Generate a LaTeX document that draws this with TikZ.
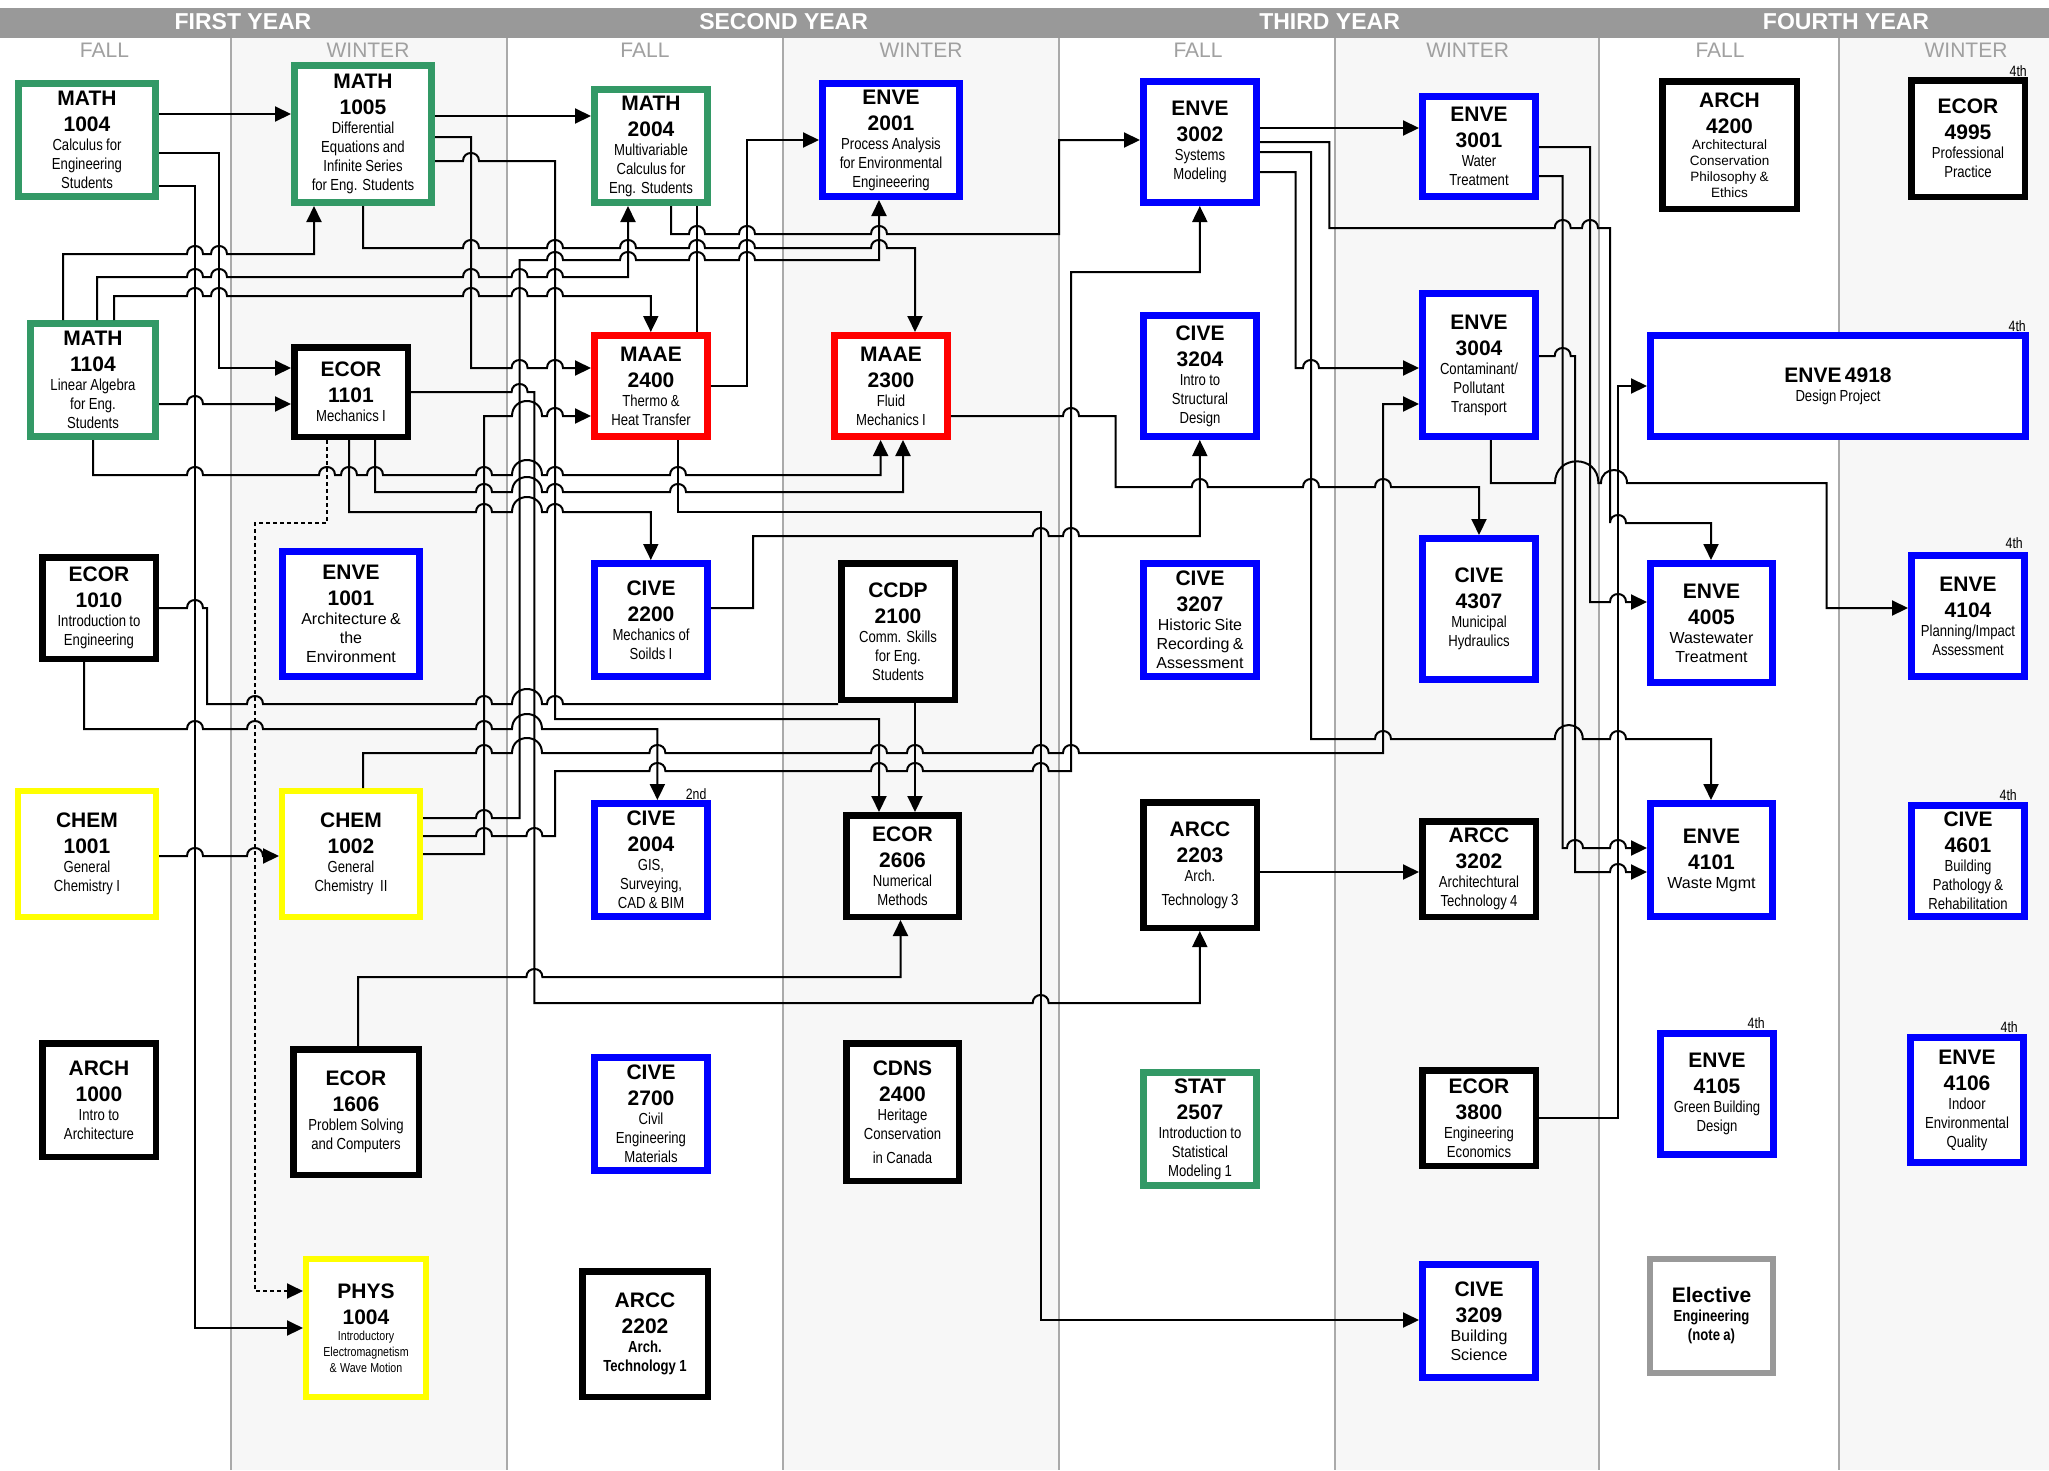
\documentclass[tikz,border=0pt]{standalone}
\usepackage{fontspec}
\setmainfont{Liberation Sans}
\newfontfamily\narrowfont[FakeStretch=0.82]{Liberation Sans}
\usetikzlibrary{arrows.meta}
\definecolor{cgreen}{HTML}{339966}
\definecolor{cblue}{HTML}{0000FF}
\definecolor{cred}{HTML}{FF0000}
\definecolor{cyellow}{HTML}{FFFF00}
\definecolor{cgrayb}{HTML}{999999}
\definecolor{colbg}{HTML}{F7F7F7}
\definecolor{colline}{HTML}{AAAAAA}
\definecolor{bandc}{HTML}{999999}
\definecolor{semc}{HTML}{A0A0A0}
\newcommand{\cT}{\fontsize{21}{26}\rmfamily\bfseries}
\newcommand{\cD}{\fontsize{16}{19}\narrowfont\mdseries}
\newcommand{\cW}{\fontsize{16}{19}\rmfamily\mdseries}
\newcommand{\cS}{\fontsize{13}{16}\narrowfont\mdseries}
\newcommand{\cA}{\fontsize{13.5}{16}\rmfamily\mdseries}
\newcommand{\cB}{\fontsize{16}{19}\narrowfont\bfseries}
\tikzset{
  cbox/.style={fill=white, inner sep=0pt, align=center, execute at begin node={\parindent=0pt}},
  conn/.style={draw=black, line width=2pt, -{Triangle[length=16pt,width=15pt]}},
  nconn/.style={draw=black, line width=2pt},
  dotline/.style={dash pattern=on 4pt off 3pt},
  hp/.style args={#1/#2}{insert path={-- ({#1-8},#2) .. controls +(0,-10.67) and +(0,-10.67) .. ({#1+8},#2)}},
  bh/.style args={#1/#2/#3}{insert path={-- ({#1-#3},#2) .. controls +(0,{-1.333*#3}) and +(0,{-1.333*#3}) .. ({#1+#3},#2)}},
  yearlbl/.style={text=white, font=\fontsize{23}{23}\selectfont\bfseries, anchor=base, inner sep=0pt},
  semlbl/.style={text=semc, font=\fontsize{21}{21}\selectfont, anchor=base, inner sep=0pt},
  ordlbl/.style={font=\fontsize{15}{15}\narrowfont, anchor=base east, inner sep=0pt}
}
\newcommand{\crs}[8]{%
  \pgfmathsetmacro{\mw}{#3-#2-#7}%
  \pgfmathsetmacro{\mh}{#5-#4-#7}%
  \pgfmathsetmacro{\tw}{#3-#2-2*#7-4}%
  \pgfmathsetmacro{\cx}{(#2+#3)/2}%
  \pgfmathsetmacro{\cy}{(#4+#5)/2}%
  \node[cbox, draw=#6, line width=#7pt, minimum width=\mw pt, minimum height=\mh pt, text width=\tw pt] (#1) at (\cx,\cy) {#8\par};}
\begin{document}
\begin{tikzpicture}[x=1pt,y=-1pt]
\useasboundingbox (0,0) rectangle (2049,1470);
\fill[white] (0,0) rectangle (2049,1470);
% column backgrounds
\fill[colbg] (230.7,37.7) rectangle (506.9,1470);
\fill[colbg] (783.1,37.7) rectangle (1058.9,1470);
\fill[colbg] (1335.1,37.7) rectangle (1599,1470);
\fill[colbg] (1839,37.7) rectangle (2049,1470);
\foreach \x in {230.7,506.9,783.1,1058.9,1335.1,1599,1839} \draw[colline, line width=2pt] (\x,37.7) -- (\x,1470);
\fill[bandc] (0,8) rectangle (2049,37.7);
\node[yearlbl] (y1) at (243,29.5) {FIRST YEAR};
\node[yearlbl] (y2) at (783.6,29.5) {SECOND YEAR};
\node[yearlbl] (y3) at (1329.6,29.5) {THIRD YEAR};
\node[yearlbl] (y4) at (1846,29.5) {FOURTH YEAR};
\node[semlbl] (s1) at (104.5,57.5) {FALL};
\node[semlbl] (s2) at (368,57.5) {WINTER};
\node[semlbl] (s3) at (645,57.5) {FALL};
\node[semlbl] (s4) at (921,57.5) {WINTER};
\node[semlbl] (s5) at (1198,57.5) {FALL};
\node[semlbl] (s6) at (1467.7,57.5) {WINTER};
\node[semlbl] (s7) at (1720,57.5) {FALL};
\node[semlbl] (s8) at (1966,57.5) {WINTER};

% course boxes
\crs{m1004}{15}{159}{80}{200}{cgreen}{7}{\cT MATH\\1004\par\cD Calculus for\\Engineering\\Students}
\crs{m1005}{291}{435}{62}{206}{cgreen}{7}{\cT MATH\\1005\par\cD Differential\\Equations and\\Infinite Series\\for Eng. Students}
\crs{m1104}{27}{159}{320}{440}{cgreen}{7}{\cT MATH\\1104\par\cD Linear Algebra\\for Eng.\\Students}
\crs{e1101}{291}{411}{344}{440}{black}{6.5}{\cT ECOR\\1101\par\cD Mechanics I}
\crs{e1010}{39}{159}{554}{662}{black}{6.5}{\cT ECOR\\1010\par\cD Introduction to\\Engineering}
\crs{n1001}{279}{423}{548}{680}{cblue}{7}{\cT ENVE\\1001\par\cW Architecture \&\\the\\Environment}
\crs{c1001}{15}{159}{788}{920}{cyellow}{6}{\cT CHEM\\1001\par\cD General\\Chemistry I}
\crs{c1002}{279}{423}{788}{920}{cyellow}{6}{\cT CHEM\\1002\par\cD General\\Chemistry\ \ II}
\crs{a1000}{39}{159}{1040}{1160}{black}{6.5}{\cT ARCH\\1000\par\cD Intro to\\Architecture}
\crs{e1606}{290}{422}{1046}{1178}{black}{6.5}{\cT ECOR\\1606\par\cD Problem Solving\\and Computers}
\crs{p1004}{303}{429}{1256}{1400}{cyellow}{6}{\cT PHYS\\1004\par\cS Introductory\\Electromagnetism\\\& Wave Motion}
\crs{m2004}{591}{711}{86}{206}{cgreen}{7}{\cT MATH\\2004\par\cD Multivariable\\Calculus for\\Eng. Students}
\crs{n2001}{819}{963}{80}{200}{cblue}{7}{\cT ENVE\\2001\par\cD Process Analysis\\for Environmental\\Engineeering}
\crs{a2400}{591}{711}{332}{440}{cred}{7}{\cT MAAE\\2400\par\cD Thermo \&\\Heat Transfer}
\crs{a2300}{831}{951}{332}{440}{cred}{7}{\cT MAAE\\2300\par\cD Fluid\\Mechanics I}
\crs{v2200}{591}{711}{560}{680}{cblue}{7}{\cT CIVE\\2200\par\cD Mechanics of\\Soilds I}
\crs{cc2100}{838}{958}{560}{703}{black}{6.5}{\cT CCDP\\2100\par\cD Comm. Skills\\for Eng.\\Students}
\crs{v2004}{591}{711}{800}{920}{cblue}{7}{\cT CIVE\\2004\par\cD GIS,\\Surveying,\\CAD \& BIM}
\crs{e2606}{843}{962}{812}{920}{black}{6.5}{\cT ECOR\\2606\par\cD Numerical\\Methods}
\crs{v2700}{591}{711}{1054}{1174}{cblue}{7}{\cT CIVE\\2700\par\cD Civil\\Engineering\\Materials}
\crs{cd2400}{843}{962}{1040}{1184}{black}{6.5}{\cT CDNS\\2400\par\cD Heritage\\Conservation\\[5pt]in Canada}
\crs{ar2202}{579}{711}{1268}{1400}{black}{6.5}{\cT ARCC\\2202\par\cB Arch.\\Technology 1}
\crs{n3002}{1140}{1260}{78}{206}{cblue}{7}{\cT ENVE\\3002\par\cD Systems\\Modeling}
\crs{n3001}{1419}{1539}{93}{200}{cblue}{7}{\cT ENVE\\3001\par\cD Water\\Treatment}
\crs{v3204}{1140}{1260}{312}{440}{cblue}{7}{\cT CIVE\\3204\par\cD Intro to\\Structural\\Design}
\crs{n3004}{1419}{1539}{290}{440}{cblue}{7}{\cT ENVE\\3004\par\cD Contaminant/\\Pollutant\\Transport}
\crs{v3207}{1140}{1260}{560}{680}{cblue}{7}{\cT CIVE\\3207\par\cW Historic Site\\Recording \&\\Assessment}
\crs{v4307}{1419}{1539}{535}{683}{cblue}{7}{\cT CIVE\\4307\par\cD Municipal\\Hydraulics}
\crs{ar2203}{1140}{1260}{799}{931}{black}{6.5}{\cT ARCC\\2203\par\cD Arch.\\[5pt]Technology 3}
\crs{ar3202}{1419}{1539}{818}{920}{black}{6.5}{\cT ARCC\\3202\par\cD Architechtural\\Technology 4}
\crs{s2507}{1140}{1260}{1069}{1189}{cgreen}{7}{\cT STAT\\2507\par\cD Introduction to\\Statistical\\Modeling 1}
\crs{e3800}{1419}{1539}{1067}{1169}{black}{6.5}{\cT ECOR\\3800\par\cD Engineering\\Economics}
\crs{v3209}{1419}{1539}{1261}{1381}{cblue}{7}{\cT CIVE\\3209\par\cW Building\\Science}
\crs{h4200}{1659}{1800}{78}{212}{black}{6.5}{\cT ARCH\\4200\par\cA Architectural\\Conservation\\Philosophy \&\\Ethics}
\crs{e4995}{1908}{2028}{77}{200}{black}{6.5}{\cT ECOR\\4995\par\cD Professional\\Practice}
\crs{n4918}{1647}{2029}{332}{440}{cblue}{7}{\cT ENVE 4918\par\cD Design Project}
\crs{n4005}{1647}{1776}{560}{686}{cblue}{7}{\cT ENVE\\4005\par\cW Wastewater\\Treatment}
\crs{n4104}{1908}{2028}{552}{680}{cblue}{7}{\cT ENVE\\4104\par\cD Planning/Impact\\Assessment}
\crs{n4101}{1647}{1776}{800}{920}{cblue}{7}{\cT ENVE\\4101\par\cW Waste Mgmt}
\crs{v4601}{1908}{2028}{802}{920}{cblue}{7}{\cT CIVE\\4601\par\cD Building\\Pathology \&\\Rehabilitation}
\crs{n4105}{1657}{1777}{1030}{1158}{cblue}{7}{\cT ENVE\\4105\par\cD Green Building\\Design}
\crs{n4106}{1907}{2027}{1034}{1166}{cblue}{7}{\cT ENVE\\4106\par\cD Indoor\\Environmental\\Quality}
\crs{elec}{1647}{1776}{1256}{1376}{cgrayb}{6}{\cT Elective\par\cB Engineering\\(note a)}

% year labels on boxes
\node[ordlbl] (o4995) at (2027,76) {4th};
\node[ordlbl] (o4918) at (2026,331) {4th};
\node[ordlbl] (o4104) at (2023,548) {4th};
\node[ordlbl] (o4601) at (2017,800) {4th};
\node[ordlbl] (o4105) at (1765,1028) {4th};
\node[ordlbl] (o4106) at (2018,1032) {4th};
\node[ordlbl] (o2004) at (706.6,799) {2nd};

% connectors
\draw[conn] (m1004.east |- 0,114) -- (m1005.west |- 0,114);
\draw[conn] (m1004.east |- 0,153) -- (219,153) -- (219,368) -- (e1101.west |- 0,368);
\draw[conn] (m1004.east |- 0,186) -- (195,186) -- (195,1328) -- (p1004.west |- 0,1328);
\draw[conn] (m1005.east |- 0,116) -- (m2004.west |- 0,116);
\draw[conn] (m1005.east |- 0,137) -- (471,137) -- (471,368) [hp=519.6/368] [hp=555/368] -- (a2400.west |- 0,368);
\draw[conn] (m1005.east |- 0,161) [hp=471/161] -- (555,161) -- (555,719) -- (879,719) -- (e2606.north -| 879,0);
\draw[conn] (m1005.south -| 363,0) -- (363,248) [hp=471/248] [hp=555/248] [hp=628/248] [hp=697/248] [hp=747/248] [hp=879/248] -- (915,248) -- (a2300.north -| 915,0);
\draw[conn] (m1104.north -| 63,0) -- (63,254) [hp=195/254] [hp=219/254] -- (314,254) -- (m1005.south -| 314,0);
\draw[conn] (m1104.north -| 97,0) -- (97,277) [hp=195/277] [hp=219/277] [hp=471/277] [hp=519.6/277] [hp=555/277] -- (628,277) -- (m2004.south -| 628,0);
\draw[conn] (m1104.north -| 114,0) -- (114,296) [hp=195/296] [hp=219/296] [hp=471/296] [hp=519.6/296] [hp=555/296] -- (650.8,296) -- (a2400.north -| 650.8,0);
\draw[conn] (m1104.east |- 0,404) [hp=195/404] -- (e1101.west |- 0,404);
\draw[conn] (m1104.south -| 93,0) -- (93,475) [hp=195/475] [hp=327/475] [hp=349/475] [hp=375/475] [hp=484/475] [bh=527/475/15] [hp=555/475] [hp=678/475] -- (880.6,475) -- (a2300.south -| 880.6,0);
\draw[conn] (e1101.east |- 0,392) [hp=519.6/392] -- (534.4,392) -- (534.4,1003) [hp=1040.7/1003] -- (1199.8,1003) -- (ar2203.south -| 1199.8,0);
\draw[conn] (e1101.south -| 375,0) -- (375,492) [hp=484/492] [bh=527/492/15] [hp=555/492] [hp=678/492] -- (903,492) -- (a2300.south -| 903,0);
\draw[conn] (e1101.south -| 349,0) -- (349,512) [hp=484/512] [bh=527/512/15] [hp=555/512] -- (650.8,512) -- (v2200.north -| 650.8,0);
\draw[conn, dotline] (e1101.south -| 327,0) -- (327,523) -- (255,523) -- (255,1291) -- (p1004.west |- 0,1291);
\draw[conn] (c1002.east |- 0,854) -- (484,854) -- (484,416) [bh=527/416/15] [hp=555/416] -- (a2400.west |- 0,416);
\draw[conn] (c1002.east |- 0,818) [hp=484/818] -- (519.6,818) -- (519.6,260) [hp=555/260] [hp=628/260] [hp=697/260] [hp=747/260] -- (879,260) -- (n2001.south -| 879,0);
\draw[conn] (c1002.east |- 0,836) [hp=484/836] [hp=534.4/836] -- (555,836) -- (555,771) [hp=657.4/771] [hp=879/771] [hp=915/771] [hp=1040.7/771] -- (1071,771) -- (1071,272) -- (1199.8,272) -- (n3002.south -| 1199.8,0);
\draw[conn] (c1002.north -| 363,0) -- (363,753) [hp=484/753] [bh=527/753/15] [hp=657.4/753] [hp=879/753] [hp=915/753] [hp=1040.7/753] [hp=1071/753] -- (1383,753) -- (1383,404) -- (n3004.west |- 0,404);
\draw[conn] (c1001.east |- 0,856) [hp=195/856] [hp=255/856] -- (c1002.west |- 0,856);
\draw[nconn] (e1010.east |- 0,608) [hp=195/608] -- (207,608) -- (207,704) [hp=255/704] [hp=484/704] [bh=527/704/15] [hp=555/704] -- (cc2100.south west |- 0,704);
\draw[conn] (e1010.south -| 84,0) -- (84,729) [hp=195/729] [hp=255/729] [hp=484/729] [bh=527/729/15] -- (657.4,729) -- (v2004.north -| 657.4,0);
\draw[conn] (e1606.north -| 358,0) -- (358,977) [hp=534.4/977] -- (900.5,977) -- (e2606.south -| 900.5,0);
\draw[conn] (m2004.south -| 671,0) -- (671,234) [hp=697/234] [hp=747/234] [hp=879/234] -- (1059,234) -- (1059,140) -- (n3002.west |- 0,140);
\draw[nconn] (m2004.south -| 697,0) -- (a2400.north -| 697,0);
\draw[conn] (a2400.east |- 0,386) -- (747,386) -- (747,140) -- (n2001.west |- 0,140);
\draw[conn] (a2400.south -| 678,0) -- (678,512) -- (1040.7,512) -- (1040.7,1320) -- (v3209.west |- 0,1320);
\draw[conn] (a2300.east |- 0,416) [hp=1071/416] -- (1115.7,416) -- (1115.7,487) [hp=1199.8/487] [hp=1311/487] [hp=1383/487] -- (1479,487) -- (v4307.north -| 1479,0);
\draw[conn] (v2200.east |- 0,608) -- (753,608) -- (753,536) [hp=1040.7/536] [hp=1071/536] -- (1199.8,536) -- (v3204.south -| 1199.8,0);
\draw[conn] (cc2100.south -| 915,0) -- (e2606.north -| 915,0);
\draw[conn] (ar2203.east |- 0,872) -- (ar3202.west |- 0,872);
\draw[conn] (n3002.east |- 0,128) -- (n3001.west |- 0,128);
\draw[conn] (n3002.east |- 0,142) -- (1329.3,142) -- (1329.3,228) [hp=1562.7/228] [hp=1590/228] -- (1610,228) -- (1610,523) [hp=1618/523] -- (1711,523) -- (n4005.north -| 1711,0);
\draw[conn] (n3002.east |- 0,152) -- (1311,152) -- (1311,739) [hp=1383/739] [bh=1568.8/739/14] [hp=1618/739] -- (1711,739) -- (n4101.north -| 1711,0);
\draw[conn] (n3002.east |- 0,172) -- (1295.5,172) -- (1295.5,368) [hp=1311/368] -- (n3004.west |- 0,368);
\draw[conn] (n3001.east |- 0,147) -- (1590,147) -- (1590,602) [hp=1618/602] -- (n4005.west |- 0,602);
\draw[conn] (n3001.east |- 0,176) -- (1562.7,176) -- (1562.7,848) [hp=1575/848] [hp=1618/848] -- (n4101.west |- 0,848);
\draw[conn] (n3004.east |- 0,356) [hp=1562.7/356] -- (1575,356) -- (1575,872) [hp=1618/872] -- (n4101.west |- 0,872);
\draw[conn] (n3004.south -| 1490.8,0) -- (1490.8,483) [bh=1576.7/483/21.7] [bh=1614/483/13] -- (1826.7,483) -- (1826.7,608) -- (n4104.west |- 0,608);
\draw[conn] (e3800.east |- 0,1118) -- (1618,1118) -- (1618,386) -- (n4918.west |- 0,386);
\end{tikzpicture}
\end{document}
